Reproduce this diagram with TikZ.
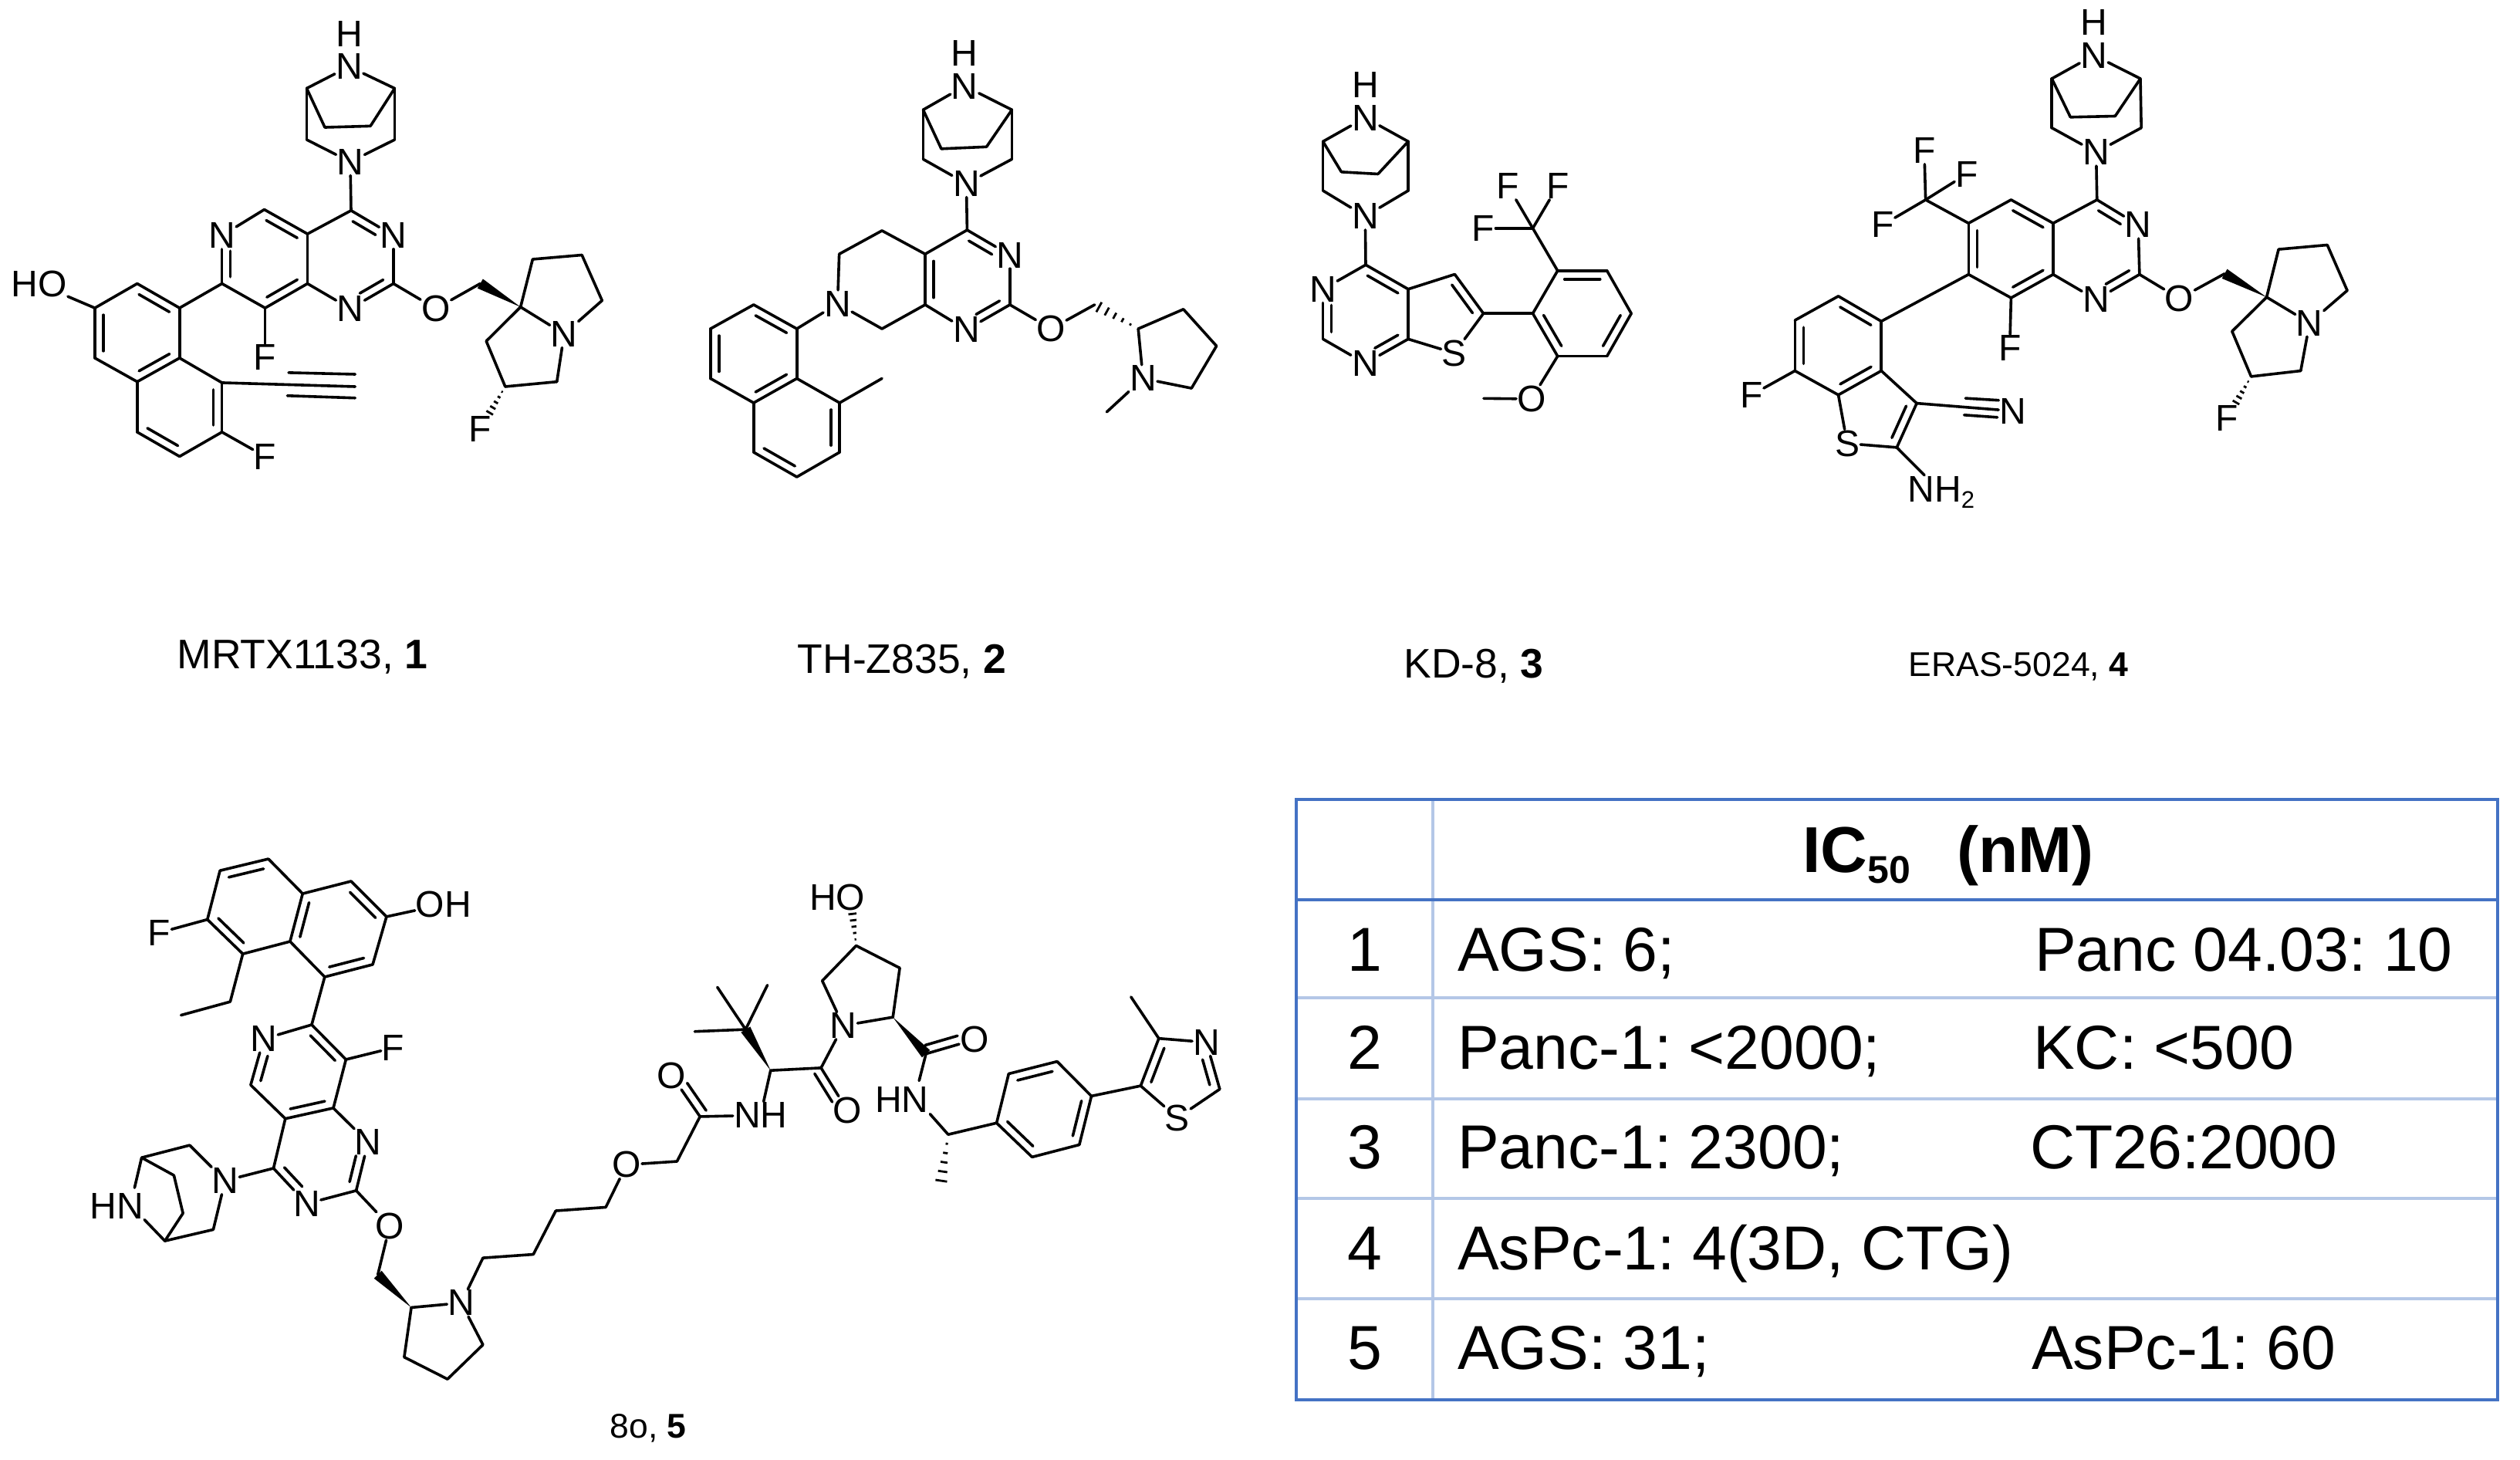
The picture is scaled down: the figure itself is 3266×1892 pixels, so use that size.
\documentclass[tikz,border=0pt]{standalone}
\usepackage{fontspec}
\usepackage{tikz}
\setmainfont{Liberation Sans}
\usetikzlibrary{calc}

\definecolor{tabledark}{HTML}{4472C4}
\definecolor{tablelight}{HTML}{B4C7E7}

\tikzset{
  bond/.style={line width=3.6pt, line cap=round, line join=round},
  hashline/.style={line width=2.8pt},
  atom/.style={font=\fontsize{48}{48}\selectfont, inner sep=1pt},
  capbig/.style={font=\fontsize{53.5}{53}\selectfont\frenchspacing, inner sep=0pt},
  capsmall/.style={font=\fontsize{44.5}{44}\selectfont\frenchspacing, inner sep=0pt},
  cell/.style={font=\fontsize{80.5}{80}\selectfont\frenchspacing, inner sep=0pt, anchor=base west},
  cellnum/.style={font=\fontsize{80.5}{80}\selectfont, inner sep=0pt, anchor=base},
  head/.style={font=\fontsize{84}{84}\bfseries\selectfont, inner sep=0pt, anchor=base},
  ruledark/.style={line width=4.5pt, tabledark},
  rulelight/.style={line width=4pt, tablelight}
}

%points of a skeleton, labels, plain bonds
\newcommand{\atoms}[2]{\foreach \n/\x/\y in {#2} \coordinate (#1\n) at (\x,\y);}
\newcommand{\labels}[2]{\foreach \n/\x/\y/\lab in {#2} \node[atom] (#1\n) at (\x,\y) {\lab};}
\newcommand{\singles}[2]{\foreach \p/\q in {#2} \draw[bond] (#1\p) -- (#1\q);}
%double bond: second line on the side of the third point
\newcommand{\dblline}[5]{
  \draw[bond] (#1) -- (#2);
  \coordinate (foot) at ($(#1)!(#3)!(#2)$);
  \coordinate (side) at ($(foot)!11pt!(#3)$);
  \draw[bond] ($(#1)!#4!(#2) + (side) - (foot)$) -- ($(#2)!#5!(#1) + (side) - (foot)$);
}
\newcommand{\doubles}[2]{\foreach \p/\q/\s in {#2} \dblline{#1\p}{#1\q}{#1\s}{.14}{.14};}
\newcommand{\doublesN}[2]{\foreach \p/\q/\s in {#2} \dblline{#1\p}{#1\q}{#1\s}{.14}{.32};}
\newcommand{\wedgebond}[2]{\fill ($(#1)!7pt!90:(#2)$) -- ($(#1)!7pt!-90:(#2)$) -- (#2) -- cycle;}
\newcommand{\hashbond}[3]{
  \foreach \k in {1,...,5} {
    \pgfmathsetmacro\hs{\k/5*#3}
    \pgfmathsetmacro\hw{\hs*8}
    \draw[hashline] ($(#1)!\hs!(#2)!\hw pt!90:(#2)$) -- ($(#1)!\hs!(#2)!\hw pt!-90:(#2)$);
  }
}

\begin{document}
\begin{tikzpicture}[x=1pt,y=-1pt]

  \useasboundingbox (0,0) rectangle (3266,1892);
  \fill[white] (0,0) rectangle (3266,1892);

  %Compound 1
  \begin{scope}[shift={(0,0)},x=.523pt,y=-.421pt]
    \labels{m1}{h/865/105/H, n1/865/205/N, n2/868/498/N, n3/975/725/N, n4/868/950/N, n5/550/725/N,
      n6/1398/1028/N, o1/1080/950/O, ho/97/875/HO, f1/657/1100/F, f2/657/1405/F, f3/1190/1320/F}
    \atoms{m1}{c1/760/272, c2/978/272, c3/760/430, c4/978/430, c5/805/392, c6/918/388, c7/870/648,
      c8/975/873, c9/762/873, c10/762/720, c11/655/645, c12/550/873, c13/657/948, c14/445/948,
      c15/340/873, c16/235/948, c17/235/1102, c18/340/1175, c19/445/1102, c20/550/1178, c21/550/1330,
      c22/445/1405, c23/340/1330, c24/1190/873, c25/1290/945, c26/1320/798, c27/1442/785,
      c28/1492/925, c29/1380/1175, c30/1252/1190, c31/1205/1050,
      y1/880/1190, y2/715/1147, y3/880/1152, y4/712/1218, y5/880/1225}
    \singles{m1}{n1/c1, n1/c2, c1/c3, c3/n2, c2/c4, c4/n2, c1/c5, c5/c6, c6/c2, n2/c7, n3/c8, n4/c9,
      c9/c10, c7/c10, c11/n5, c12/c13, c13/f1, c12/c14, c14/c19, c16/ho, c15/c16, c17/c18, c18/c23,
      c19/c20, c21/c22, c21/f2, c8/o1, o1/c24, c25/n6, c25/c26, c26/c27, c27/c28, c28/n6, n6/c29,
      c29/c30, c30/c31, c31/c25, c20/y1, y2/y3, y4/y5}
    \doublesN{m1}{c7/n3/c9, c8/n4/c10, c12/n5/c10}
    \doubles{m1}{c9/c13/c11, c10/c11/c13, c14/c15/c17, c16/c17/c19, c18/c19/c15, c20/c21/c23, c22/c23/c20}
    \wedgebond{m1c24}{m1c25}
    \hashbond{m1c30}{m1f3}{.62}
  \end{scope}
  \node[capbig] (name1) at (392,851) {MRTX1133, {\bfseries 1}};

  %Compound 2
  \begin{scope}[shift={(880,0)},x=.523pt,y=-.421pt]
    \labels{m2}{h/708/163/H, n1/708/265/N, n2/712/565/N, n3/820/785/N, n4/712/1015/N, n5/393/935/N,
      n6/1150/1165/N, o1/922/1012/O}
    \atoms{m2}{c1/605/338, c2/825/338, c3/605/490, c4/825/490, c5/650/458, c6/762/452, c7/714/708,
      c8/820/938, c9/610/938, c10/610/782, c11/503/710, c12/397/782, c13/503/1012, c14/292/1012,
      c15/185/938, c16/78/1012, c17/78/1165, c18/185/1240, c19/292/1165, c20/398/1240, c21/398/1392,
      c22/292/1468, c23/185/1392, c24/1030/938, c25/1138/1012, c26/1250/952, c27/1332/1065,
      c28/1270/1195, me1/503/1165, me2/1060/1268}
    \singles{m2}{n1/c1, n1/c2, c1/c3, c3/n2, c2/c4, c4/n2, c1/c5, c5/c6, c6/c2, n2/c7, n3/c8, n4/c9,
      c7/c10, c10/c11, c11/c12, c12/n5, n5/c13, c13/c9, n5/c14, c14/c19, c15/c16, c17/c18, c18/c23,
      c19/c20, c21/c22, c20/me1, c8/o1, o1/c24, c25/c26, c26/c27, c27/c28, c28/n6, n6/c25, n6/me2}
    \doublesN{m2}{c7/n3/c9, c8/n4/c10}
    \doubles{m2}{c9/c10/n3, c14/c15/c17, c16/c17/c19, c18/c19/c15, c20/c21/c23, c22/c23/c20}
    \hashbond{m2c25}{m2c24}{.9}
  \end{scope}
  \node[capbig] (name2) at (1169,857) {TH-Z835, {\bfseries 2}};

  %Compound 3
  \begin{scope}[shift={(1640,0)},x=.3316pt,y=-.3316pt]
    \labels{m3}{h/390/331/H, n1/390/460/N, n2/390/845/N, n3/225/1130/N, n4/390/1420/N, s/738/1380/S,
      f1/948/727/F, f2/1142/727/F, f3/852/892/F, o1/1040/1559/O}
    \atoms{m3}{c1/225/553, c2/558/553, c3/225/745, c4/558/745, c5/297/672, c6/440/680, c7/392/1035,
      c8/225/1325, c9/558/1325, c10/558/1130, c11/740/1072, c12/852/1225, c13/1045/1225, c14/1142/1058,
      c15/1335/1058, c16/1430/1225, c17/1335/1392, c18/1142/1392, c19/1045/892, me/853/1557}
    \singles{m3}{n1/c1, n1/c2, c1/c3, c3/n2, c2/c4, c4/n2, c1/c5, c5/c6, c6/c2, n2/c7, c7/n3, c8/n4,
      c9/c10, c10/c11, c12/s, s/c9, c12/c13, c13/c14, c15/c16, c17/c18, c14/c19, c19/f1, c19/f2,
      c19/f3, c18/o1, o1/me}
    \doublesN{m3}{c8/n3/c9, c9/n4/c7}
    \doubles{m3}{c7/c10/n3, c11/c12/c9, c14/c15/c17, c16/c17/c14, c18/c13/c16}
  \end{scope}
  \node[capbig] (name3) at (1910,863) {KD-8, {\bfseries 3}};

  %Compound 4
  \begin{scope}[shift={(2200,0)},x=.574pt,y=-.4337pt]
    \labels{m4}{h/895/66/H, n1/895/165/N, n2/900/455/N, n3/995/672/N, n4/900/895/N, n5/1382/965/N,
      n6/712/1228/N, o1/1088/892/O, s/338/1325/S, f1/705/1040/F, f2/512/450/F, f3/608/520/F,
      f4/418/672/F, f5/1195/1250/F, f6/122/1180/F,
      nh/550/1470/NH\raisebox{-8pt}{\fontsize{31}{31}\selectfont 2}}
    \atoms{m4}{c1/800/235, c2/1000/235, c3/800/382, c4/1002/382, c5/842/350, c6/943/347, c7/902/597,
      c8/998/820, c9/803/820, c10/803/667, c11/708/597, c12/612/667, c13/612/820, c14/708/890,
      c15/515/597, c16/1190/818, c17/1285/888, c18/1312/745, c19/1422/732, c20/1467/868, c21/1362/1108,
      c22/1250/1125, c23/1207/990, c24/415/960, c25/318/885, c26/220/957, c27/220/1108, c28/318/1180,
      c29/415/1108, c30/450/1337, c31/495/1205, t1/605/1190, t2/680/1196, t3/602/1240, t4/677/1247}
    \singles{m4}{n1/c1, n1/c2, c1/c3, c3/n2, c2/c4, c4/n2, c1/c5, c5/c6, c6/c2, n2/c7, n3/c8, n4/c9,
      c7/c10, c9/c10, c11/c12, c13/c14, c14/f1, c12/c15, c15/f2, c15/f3, c15/f4, c8/o1, o1/c16,
      c17/c18, c18/c19, c19/c20, c20/n5, n5/c17, n5/c21, c21/c22, c22/c23, c23/c17, c13/c24, c24/c29,
      c25/c26, c27/c28, c27/f6, c28/s, s/c30, c31/c29, c30/nh, c31/n6, t1/t2, t3/t4}
    \doublesN{m4}{c7/n3/c9, c8/n4/c10}
    \doubles{m4}{c10/c11/c13, c12/c13/c10, c9/c14/c11, c24/c25/c27, c26/c27/c24, c28/c29/c25, c30/c31/c28}
    \wedgebond{m4c16}{m4c17}
    \hashbond{m4c22}{m4f5}{.62}
  \end{scope}
  \node[capsmall] (name4) at (2616,864) {ERAS-5024, {\bfseries 4}};

  %Compound 5, warhead and linker
  \begin{scope}[shift={(80,1080)},x=.5102pt,y=-.4592pt]
    \labels{m5}{oh/970/200/OH, f1/248/280/F, f2/842/605/F, n1/513/580/N, n2/778/872/N, n3/622/1045/N,
      n4/415/980/N, n5/1015/1325/N, hn/140/1052/HN, o1/833/1108/O, o2/1435/935/O}
    \atoms{m5}{c1/525/72, c2/402/105, c3/370/243, c4/460/340, c5/580/305, c6/612/170, c7/735/135,
      c8/825/235, c9/790/370, c10/668/405, c11/428/475, c12/303/513, c13/635/540, c14/480/710,
      c15/568/805, c16/690/775, c17/722/638, c18/748/1008, c19/538/945, c20/325/880, c21/203/915,
      c22/385/1118, c23/262/1150, c24/285/965, c25/308/1072, c26/803/1245, c27/888/1338, c28/1070/1443,
      c29/980/1540, c30/870/1478, c31/1070/1198, c32/1198/1188, c33/1255/1065, c34/1382/1055,
      hna/185/1000, hnb/210/1090}
    \singles{m5}{c2/c3, c4/c5, c5/c10, c6/c1, c6/c7, c8/c9, c8/oh, c3/f1, c4/c11, c11/c12, c10/c13,
      c13/n1, c14/c15, c16/c17, c17/f2, c16/n2, c18/n3, c15/c19, c19/n4, n4/c20, c20/c21, n4/c22,
      c22/c23, c21/c24, c24/c25, c25/c23, c21/hna, c23/hnb, c18/o1, o1/c26, c27/n5, c27/c30, c30/c29,
      c29/c28, c28/n5, n5/c31, c31/c32, c32/c33, c33/c34, c34/o2}
    \doublesN{m5}{c14/n1/c16, c18/n2/c19, c19/n3/c16}
    \doubles{m5}{c1/c2/c4, c3/c4/c1, c5/c6/c8, c7/c8/c10, c9/c10/c7, c13/c17/c15, c15/c16/n1}
    \wedgebond{m5c26}{m5c27}
  \end{scope}

  %Compound 5, ligase part
  \begin{scope}[shift={(800,1100)},x=.523pt,y=-.332pt]
    \labels{m5}{o3/135/885/O, o4/570/1020/O, o5/885/745/O, n6/560/690/N, n7/1460/755/N, s/1388/1050/S,
      nhb/355/1040/NH, nhc/705/980/HN, hob/545/190/HO}
    \atoms{m5}{c35/148/1220, c36/205/1045, c37/380/865, c38/318/705, c39/505/855, c40/508/515,
      c41/592/378, c42/700/465, c43/683/657, c44/765/800, c45/820/1115, c46/940/1070, c47/970/878,
      c48/1090/830, c49/1175/965, c50/1145/1155, c51/1028/1203, c52/1297/925, c53/1342/740, c54/1493/938,
      me1/248/540, me2/372/532, me3/192/713, me4/802/1305, me5/1273/578, hoa/578/190, nha/748/905, nhd/775/1035}
    \singles{m5}{o2/c35, c35/c36, c36/nhb, nhb/c37, c37/c39, c38/me1, c38/me2, c38/me3, c39/n6, n6/c40,
      c40/c41, c41/c42, c42/c43, c43/n6, c44/nha, nhd/c45, c45/c46, c46/c47, c48/c49, c50/c51, c49/c52,
      c53/n7, c54/s, s/c52, c53/me5}
    \foreach \p/\q/\s in {c36/o3/nhb, c39/o4/c37, c44/o5/c43} \dblline{m5\p}{m5\q}{m5\s}{.03}{.3};
    \doublesN{m5}{c54/n7/c53}
    \doubles{m5}{c47/c48/c50, c49/c50/c47, c51/c46/c48, c52/c53/n7}
    \wedgebond{m5c38}{m5c37}
    \wedgebond{m5c44}{m5c43}
    \hashbond{m5c41}{m5hoa}{.66}
    \hashbond{m5c45}{m5me4}{.95}
  \end{scope}
  \node[capsmall] (name5) at (840,1851) {8o, {\bfseries 5}};

  %Table
  \foreach \ypos in {1293,1424,1553,1683} {
    \draw[rulelight] (1680,\ypos) -- (3237,\ypos);
  }
  \draw[rulelight] (1857,1036) -- (1857,1814);
  \draw[ruledark] (1680,1036) rectangle (3237,1814);
  \draw[ruledark] (1680,1166) -- (3237,1166);
  \node[head] (headic) at (2525,1130) {IC\raisebox{-14pt}{\fontsize{50}{50}\selectfont 50}\hspace{.72em}(nM)};
  \foreach \r/\ypos/\lab in {1/1258/{AGS: 6;}, 2/1385/{Panc-1: <2000;}, 3/1514/{Panc-1: 2300;},
    4/1645/{AsPc-1: 4(3D, CTG)}, 5/1774/{AGS: 31;}} {
    \node[cellnum] (num\r) at (1769,\ypos) {\r};
    \node[cell] (first\r) at (1889,\ypos) {\lab};
  }
  \foreach \r/\xpos/\ypos/\lab in {1/2637/1258/{Panc 04.03: 10}, 2/2635/1385/{KC: <500},
    3/2631/1514/{CT26:2000}, 5/2633/1774/{AsPc-1: 60}} {
    \node[cell] (second\r) at (\xpos,\ypos) {\lab};
  }

\end{tikzpicture}
\end{document}
